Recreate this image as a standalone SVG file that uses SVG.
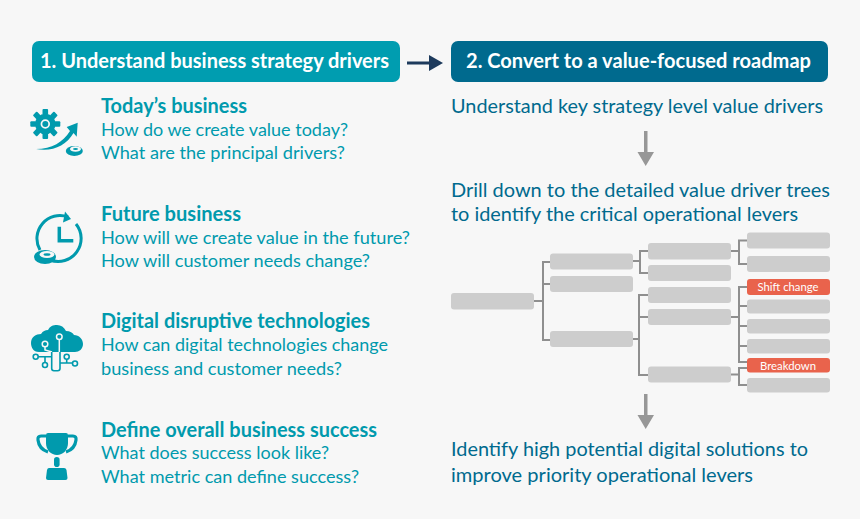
<svg xmlns="http://www.w3.org/2000/svg" width="860" height="519" viewBox="0 0 860 519">
<style>
text{font-family:"Lato","Noto Sans",sans-serif}
.hd{font-size:20px;font-weight:700;fill:#fff}
.t{font-size:20px;font-weight:700;fill:#009aad}
.b{font-size:18.200px;fill:#009aad}
.r{font-size:19.900px;fill:#006a8e}
.g{fill:#cdcdcd}
.o{fill:#e9634c}
.w{font-size:11px;fill:#fff;text-anchor:middle}
.c{fill:none;stroke:#8f8f8f;stroke-width:2}
.i{fill:#009aad}
.l{fill:none;stroke:#009aad;stroke-width:1.600}
.s{fill:none;stroke:#f7f7f7;stroke-width:1.500}
.bg{fill:#f7f7f7}
</style>
<defs><rect id="tooth" x="-2.800" y="-15" width="5.600" height="6" rx="1" fill="#009aad"/></defs>
<rect width="860" height="519" fill="#f7f7f7"/>
<g id="connectors">
<path class="c" d="M533 301H543M550 262H543V340H550M543 284H550"/>
<path class="c" d="M633 261H640M648 251H640V273H648"/>
<path class="c" d="M633 339H639M648 295H639V375H648M639 317H648"/>
<path class="c" d="M731 251H739M747 240.500H739V264H747"/>
<path class="c" d="M731 317H739M747 287H739V362H747M739 306H747M739 326H747M739 346H747"/>
<path class="c" d="M731 374.500H739M747 368H739V385H747"/>
<path d="M407 61.500H429V55L443 63L429 71V64.500H407Z" fill="#1d3a5c"/>
<path d="M644 131H647.500V152H654L645.700 166L637.500 152H644Z" fill="#979797"/>
<path d="M644 394H647.500V415H654L645.700 429L637.500 415H644Z" fill="#979797"/>
</g>
<g id="head1"><rect x="32" y="41" width="368" height="41" rx="7" fill="#009db0"/><text class="hd" x="40" y="68" textLength="349" lengthAdjust="spacingAndGlyphs">1. Understand business strategy drivers</text></g>
<g id="head2"><rect x="451" y="41" width="377" height="41" rx="7" fill="#006a8e"/><text class="hd" x="466" y="68" textLength="345" lengthAdjust="spacingAndGlyphs">2. Convert to a value-focused roadmap</text></g>
<g id="item1">
<circle cx="45.300" cy="124" r="7.500" fill="none" stroke="#009aad" stroke-width="5.500"/><circle cx="45.300" cy="124" r="3" class="i"/>
<g transform="translate(45.300 124)"><use href="#tooth"/><use href="#tooth" transform="rotate(45)"/><use href="#tooth" transform="rotate(90)"/><use href="#tooth" transform="rotate(135)"/><use href="#tooth" transform="rotate(180)"/><use href="#tooth" transform="rotate(225)"/><use href="#tooth" transform="rotate(270)"/><use href="#tooth" transform="rotate(315)"/></g>
<path class="i" d="M36 149C52 149 63 142 70 131L66.700 127L77.700 122.700L76.700 136.700L73.500 133C66 146 52 152 36 149Z"/>
<ellipse cx="74.300" cy="151" rx="8.500" ry="5" class="i"/><ellipse cx="75.500" cy="149" rx="5.500" ry="2.800" class="bg"/><ellipse cx="75.500" cy="149" rx="2.500" ry="1" class="i"/>
<text class="t" x="101" y="113" textLength="146" lengthAdjust="spacingAndGlyphs">Today’s business</text><text class="b" x="101" y="136" textLength="247" lengthAdjust="spacingAndGlyphs">How do we create value today?</text><text class="b" x="101" y="159" textLength="244" lengthAdjust="spacingAndGlyphs">What are the principal drivers?</text></g>
<g id="item2">
<path d="M40 250A23 23 0 0 1 68 217M76 224A23 23 0 0 1 50 260" fill="none" stroke="#009aad" stroke-width="3"/>
<path class="i" d="M65 211.500L71 219L63 222.500Z"/><path d="M59.300 226.700V240.700H73.300" fill="none" stroke="#009aad" stroke-width="3.500"/>
<ellipse cx="45" cy="257" rx="11" ry="7" class="i"/><ellipse cx="47" cy="254.500" rx="7.500" ry="3.500" class="bg"/><ellipse cx="47" cy="254.500" rx="3.500" ry="1.300" class="i"/>
<text class="t" x="101" y="221" textLength="140" lengthAdjust="spacingAndGlyphs">Future business</text><text class="b" x="101" y="244" textLength="309" lengthAdjust="spacingAndGlyphs">How will we create value in the future?</text><text class="b" x="101" y="267" textLength="269" lengthAdjust="spacingAndGlyphs">How will customer needs change?</text></g>
<g id="item3">
<path class="i" d="M39 352C33 352 31 347 31 343C31 337 36 334 41 334C43 331 45 330 48 330C50 326 53 325 57 325C61 325 64 327 66 331C70 331 73 333 74 335C79 335 83 339 83 344C83 349 79 352 75 352Z"/>
<circle cx="45" cy="344" r="2.800" class="s"/><path class="s" d="M45 347V350L52 352M59.300 339.500V352"/><circle cx="59.300" cy="336.700" r="2.800" class="s"/>
<path class="l" d="M51.700 352V368.500Q51.700 370.700 54 370.700H57.700Q60 370.700 60 368.500V352M38.200 356.700H51.700M45 356.700V362.500M60 363H72.500M66.700 359.200V363"/>
<circle cx="35.700" cy="356.700" r="2.500" class="l"/><circle cx="45" cy="365" r="2.500" class="l"/><circle cx="66.700" cy="356.700" r="2.500" class="l"/><circle cx="75" cy="363.500" r="2.500" class="l"/>
<text class="t" x="101" y="328" textLength="269" lengthAdjust="spacingAndGlyphs">Digital disruptive technologies</text><text class="b" x="101" y="351" textLength="287" lengthAdjust="spacingAndGlyphs">How can digital technologies change</text><text class="b" x="101" y="375" textLength="241" lengthAdjust="spacingAndGlyphs">business and customer needs?</text></g>
<g id="item4">
<path class="i" d="M46 435Q46 433 48 433H66Q68 433 68 435V443C68 450 63 455 57 455C51 455 46 450 46 443Z"/>
<path d="M46 436H41Q37.500 436 38 440Q39 449 48 452M68 436H73Q76.500 436 76 440Q75 449 66 452" fill="none" stroke="#009aad" stroke-width="3.200"/>
<rect x="54" y="457" width="5.600" height="10" rx="2.800" class="i"/>
<path class="i" d="M49 468H64Q66 468 66.500 470L67.500 478Q67.500 480 65.500 480H48Q46 480 46 478L47 470Q47.500 468 49 468Z"/>
<text class="t" x="101" y="437" textLength="276" lengthAdjust="spacingAndGlyphs">Define overall business success</text><text class="b" x="101" y="459" textLength="228" lengthAdjust="spacingAndGlyphs">What does success look like?</text><text class="b" x="101" y="483" textLength="258" lengthAdjust="spacingAndGlyphs">What metric can define success?</text></g>
<g id="right-texts">
<text class="r" x="451" y="113" textLength="372" lengthAdjust="spacingAndGlyphs">Understand key strategy level value drivers</text>
<text class="r" x="451" y="197" textLength="379" lengthAdjust="spacingAndGlyphs">Drill down to the detailed value driver trees</text>
<text class="r" x="451" y="221" textLength="347" lengthAdjust="spacingAndGlyphs">to identify the critical operational levers</text>
<text class="r" x="451" y="456" textLength="357" lengthAdjust="spacingAndGlyphs">Identify high potential digital solutions to</text>
<text class="r" x="451" y="482" textLength="302" lengthAdjust="spacingAndGlyphs">improve priority operational levers</text>
</g>
<g id="root"><rect class="g" x="451" y="293" width="83" height="16.500" rx="3"/></g>
<g id="n2a"><rect class="g" x="550" y="253.500" width="83" height="16" rx="3"/></g>
<g id="n2b"><rect class="g" x="550" y="276" width="83" height="16" rx="3"/></g>
<g id="n2c"><rect class="g" x="550" y="331" width="83" height="16" rx="3"/></g>
<g id="n3a"><rect class="g" x="648" y="243" width="83" height="16.500" rx="3"/></g>
<g id="n3b"><rect class="g" x="648" y="265" width="83" height="16" rx="3"/></g>
<g id="n3c"><rect class="g" x="648" y="287" width="83" height="16" rx="3"/></g>
<g id="n3d"><rect class="g" x="648" y="309" width="83" height="16" rx="3"/></g>
<g id="n3e"><rect class="g" x="648" y="366.500" width="83" height="16" rx="3"/></g>
<g id="n4a"><rect class="g" x="747" y="232.500" width="83" height="16" rx="3"/></g>
<g id="n4b"><rect class="g" x="747" y="256" width="83" height="16" rx="3"/></g>
<g id="n4c"><rect class="o" x="747" y="279" width="83" height="16" rx="3"/><text class="w" x="788" y="291" textLength="61" lengthAdjust="spacingAndGlyphs">Shift change</text></g>
<g id="n4d"><rect class="g" x="747" y="299.500" width="83" height="14" rx="3"/></g>
<g id="n4e"><rect class="g" x="747" y="319" width="83" height="14.500" rx="3"/></g>
<g id="n4f"><rect class="g" x="747" y="339" width="83" height="14.500" rx="3"/></g>
<g id="n4g"><rect class="o" x="747" y="358" width="83" height="14.500" rx="3"/><text class="w" x="788" y="369.500" textLength="56" lengthAdjust="spacingAndGlyphs">Breakdown</text></g>
<g id="n4h"><rect class="g" x="747" y="378" width="83" height="14.500" rx="3"/></g>
</svg>
